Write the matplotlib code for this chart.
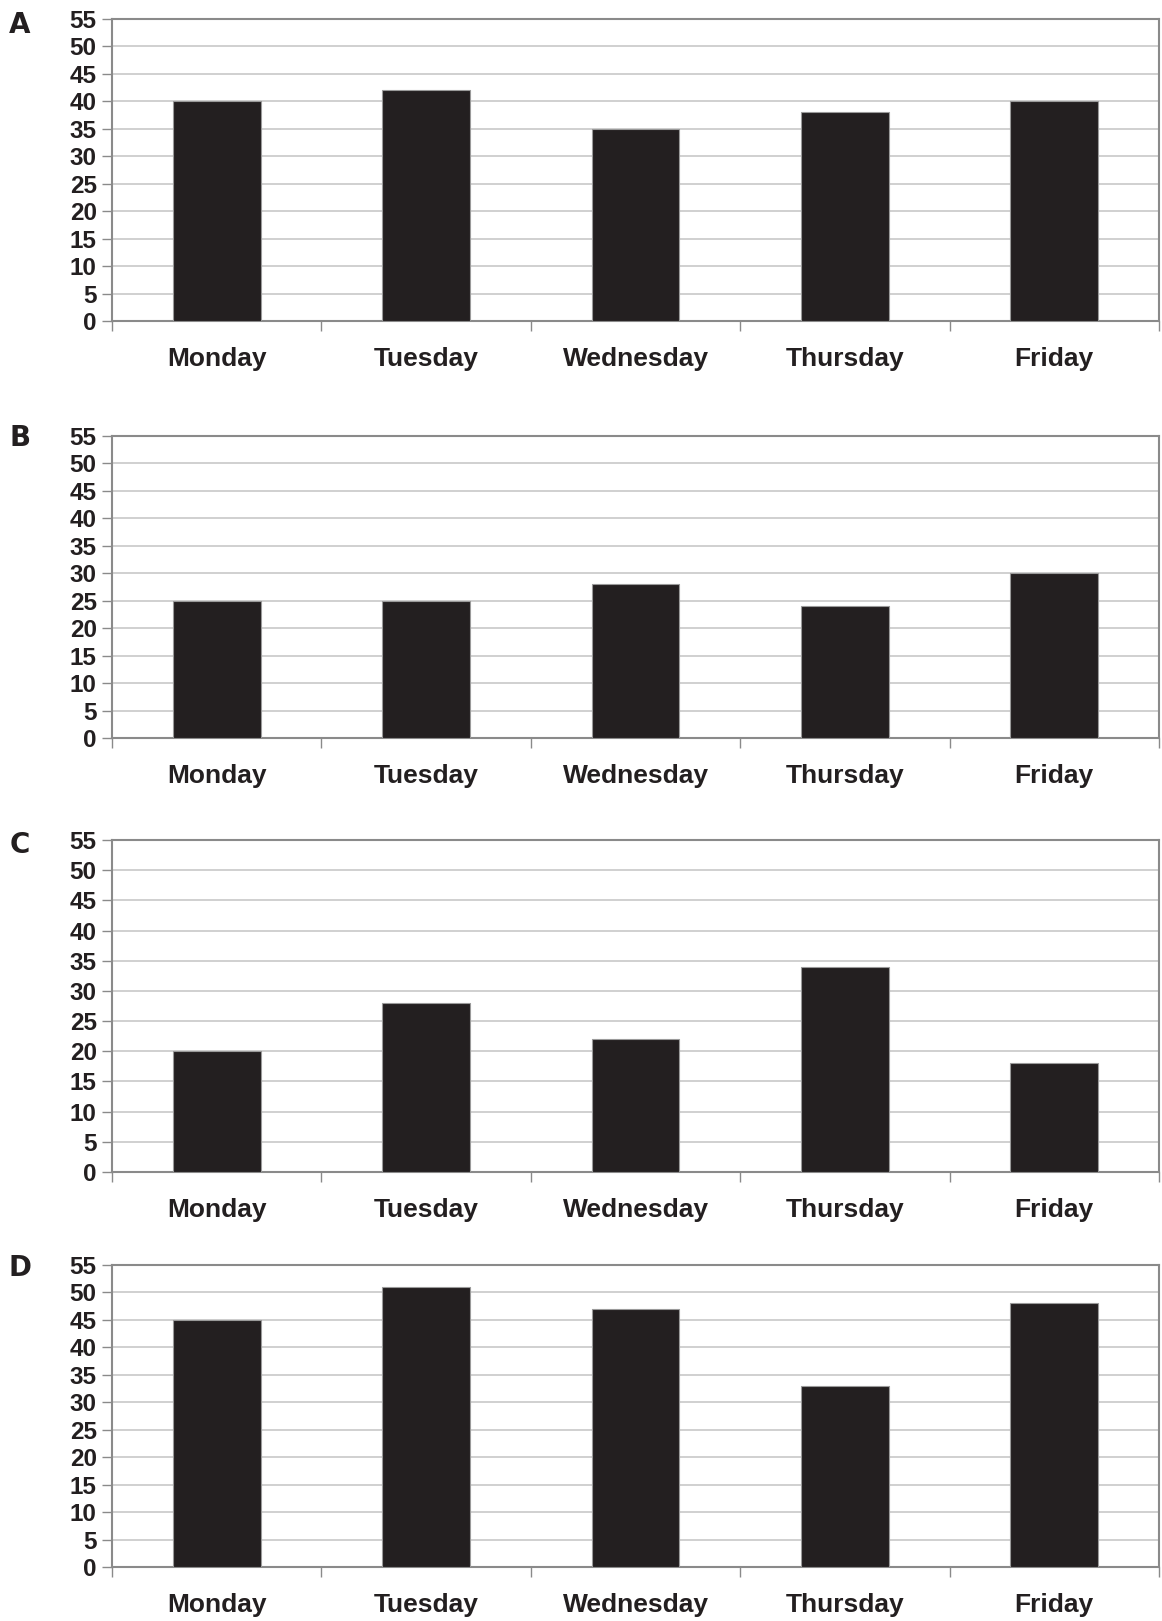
import numpy as np
import matplotlib
matplotlib.use("Agg")
import matplotlib.pyplot as plt

days = ["Monday", "Tuesday", "Wednesday", "Thursday", "Friday"]
panel_names = ["A", "B", "C", "D"]
values_a = [40, 42, 35, 38, 40]
values_b = [25, 25, 28, 24, 30]
values_c = [20, 28, 22, 34, 18]
values_d = [45, 51, 47, 33, 48]
y_ticks = list(range(0, 60, 5))

W, H = 1162, 1621
fig = plt.figure(figsize=(W / 100, H / 100), dpi=100)
plt.rcParams['font.family'] = ['Liberation Sans', 'DejaVu Sans']

# pixel boxes: (top, bottom) for each panel
boxes = [(19, 321), (436, 738), (840, 1172), (1265, 1567)]
letters_y = [25, 438, 845, 1268]
left, right = 112, 1159

frame_col = "#8a8a8a"
grid_col = "#c8c8c8"
bar_col = "#231f20"

for name, vals, (top, bot), ly in zip(panel_names, [values_a, values_b, values_c, values_d], boxes, letters_y):
    ax = fig.add_axes([left / W, 1 - bot / H, (right - left) / W, (bot - top) / H])
    x = np.arange(len(days))
    ax.bar(x, vals, width=0.42, color=bar_col, edgecolor="#9a9a9a", linewidth=0.8, zorder=3)
    ax.set_xlim(-0.5, len(days) - 0.5)
    ax.set_ylim(0, 55)
    ax.set_yticks(y_ticks)
    ax.set_yticklabels([str(t) for t in y_ticks], fontsize=17.5, fontweight="bold", color="#231f20")
    ax.yaxis.grid(True, color=grid_col, linewidth=1.2, zorder=0)
    ax.tick_params(axis="y", length=7, width=1, color=frame_col, pad=4)
    # category boundaries get tick marks, labels go in the middle
    ax.set_xticks(np.arange(-0.5, len(days), 1.0))
    ax.set_xticklabels([])
    ax.tick_params(axis="x", which="major", length=7, width=1, color=frame_col)
    ax.set_xticks(x, minor=True)
    ax.set_xticklabels(days, minor=True, fontsize=19, fontweight="bold", color="#231f20")
    ax.tick_params(axis="x", which="minor", length=0, pad=19)
    for s in ax.spines.values():
        s.set_color(frame_col)
        s.set_linewidth(1.5)
    fig.text(20 / W, 1 - ly / H, name, fontsize=20, fontweight="bold",
             family="DejaVu Sans", color="#231f20", ha="center", va="center")

fig.savefig("out.png", dpi=100)
